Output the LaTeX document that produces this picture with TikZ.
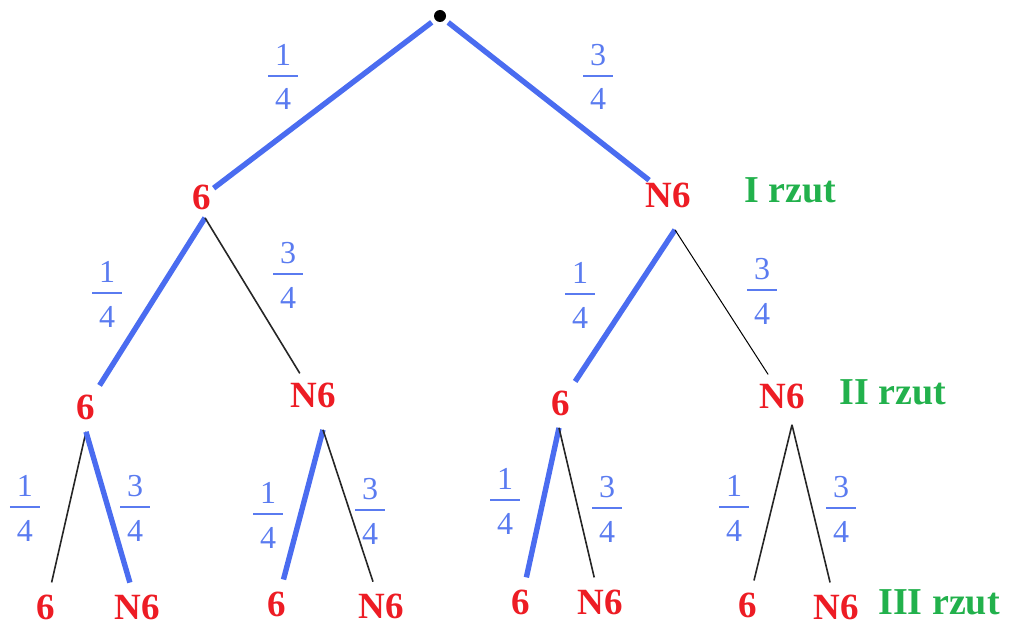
\documentclass[tikz,border=0pt]{standalone}
\usepackage{fontspec}
\setmainfont{Liberation Serif}
\usetikzlibrary{positioning}
\definecolor{ThrowRed}{HTML}{ED1C24}
\definecolor{ThrowGreen}{HTML}{22B14C}
\definecolor{PathBlue}{HTML}{4A6CF0}
\definecolor{ProbBlue}{HTML}{5A7BF0}
\setlength{\arrayrulewidth}{0.8pt}
\newcommand{\prob}[2]{\begin{tabular}{@{\hspace{3.5pt}}c@{\hspace{3.5pt}}}#1\\[-0.6pt]\hline\rule{0pt}{16.5pt}#2\end{tabular}}
\tikzset{
  outcome/.style={text=ThrowRed,font=\fontsize{18.5}{21}\selectfont\bfseries,inner sep=1pt},
  rzut/.style={text=ThrowGreen,font=\fontsize{19}{22}\selectfont\bfseries,inner sep=0pt},
  pr/.style={text=ProbBlue,font=\fontsize{16}{19}\selectfont,inner sep=0pt},
  dot/.style={circle,fill=black,minimum size=6pt,inner sep=0pt},
  branch/.style={draw=black!85,line width=0.8pt},
  thin/.style={draw=black,line width=0.5pt},
  hit/.style={draw=PathBlue,line width=2.7pt},
}
\begin{document}
\begin{tikzpicture}[x=0.5pt,y=-0.5pt]
  \useasboundingbox (0,0) rectangle (1011,626);
  \node[dot] (s) at (440,16) {};
  % I rzut
  \node[outcome] (a) at (202,197) {6};
  \node[outcome] (b) at (668,195) {N6};
  \node[rzut] (r1) at (790,190) {I rzut};
  % II rzut
  \node[outcome] (aa) at (86,407) {6};
  \node[outcome] (ab) at (313,395) {N6};
  \node[outcome] (ba) at (561,403) {6};
  \node[outcome] (bb) at (782,396) {N6};
  \node[rzut] (r2) at (893,392) {II rzut};
  % III rzut
  \node[outcome] (aaa) at (46,607) {6};
  \node[outcome] (aab) at (137,607) {N6};
  \node[outcome] (aba) at (277,604) {6};
  \node[outcome] (abb) at (381,606) {N6};
  \node[outcome] (baa) at (521,602) {6};
  \node[outcome] (bab) at (600,602) {N6};
  \node[outcome] (bba) at (748,605) {6};
  \node[outcome] (bbb) at (836,607) {N6};
  \node[rzut] (r3) at (939,602) {III rzut};
  % branches
  \draw[hit,shorten <=2pt] (s) -- (a);
  \draw[hit,shorten <=2pt] (s) -- (b);
  \foreach \p/\c/\st/\dx/\dy in {a/aa/hit/1.5pt/-3pt, a/ab/branch/1.5pt/-3pt,
                                 b/ba/hit/3.5pt/-10pt, b/bb/thin/3.5pt/-10pt}
    \draw[\st,shorten >=4pt] ([xshift=\dx,yshift=\dy]\p.south) -- (\c);
  \foreach \p/\c/\st/\dx/\dy in {aa/aaa/branch/0pt/-5pt, aa/aab/hit/0pt/-5pt,
                                 ab/aba/hit/5pt/-10pt, ab/abb/branch/5pt/-10pt,
                                 ba/baa/hit/-1pt/-5pt, ba/bab/branch/-1pt/-5pt,
                                 bb/bba/branch/5pt/-7pt, bb/bbb/branch/5pt/-7pt}
    \draw[\st,shorten >=5pt] ([xshift=\dx,yshift=\dy]\p.south) -- (\c);
  % probabilities
  \foreach \x/\y/\n [count=\i] in {283/76/1, 598/76/3,
      107/293/1, 288/274/3, 580/294/1, 762/290/3,
      25/507/1, 135/507/3, 268/514/1, 370/510/3,
      505/500/1, 607/508/3, 734/507/1, 841/508/3}
    \node[pr] (q\i) at (\x,\y+4) {\prob{\n}{4}};
\end{tikzpicture}
\end{document}
